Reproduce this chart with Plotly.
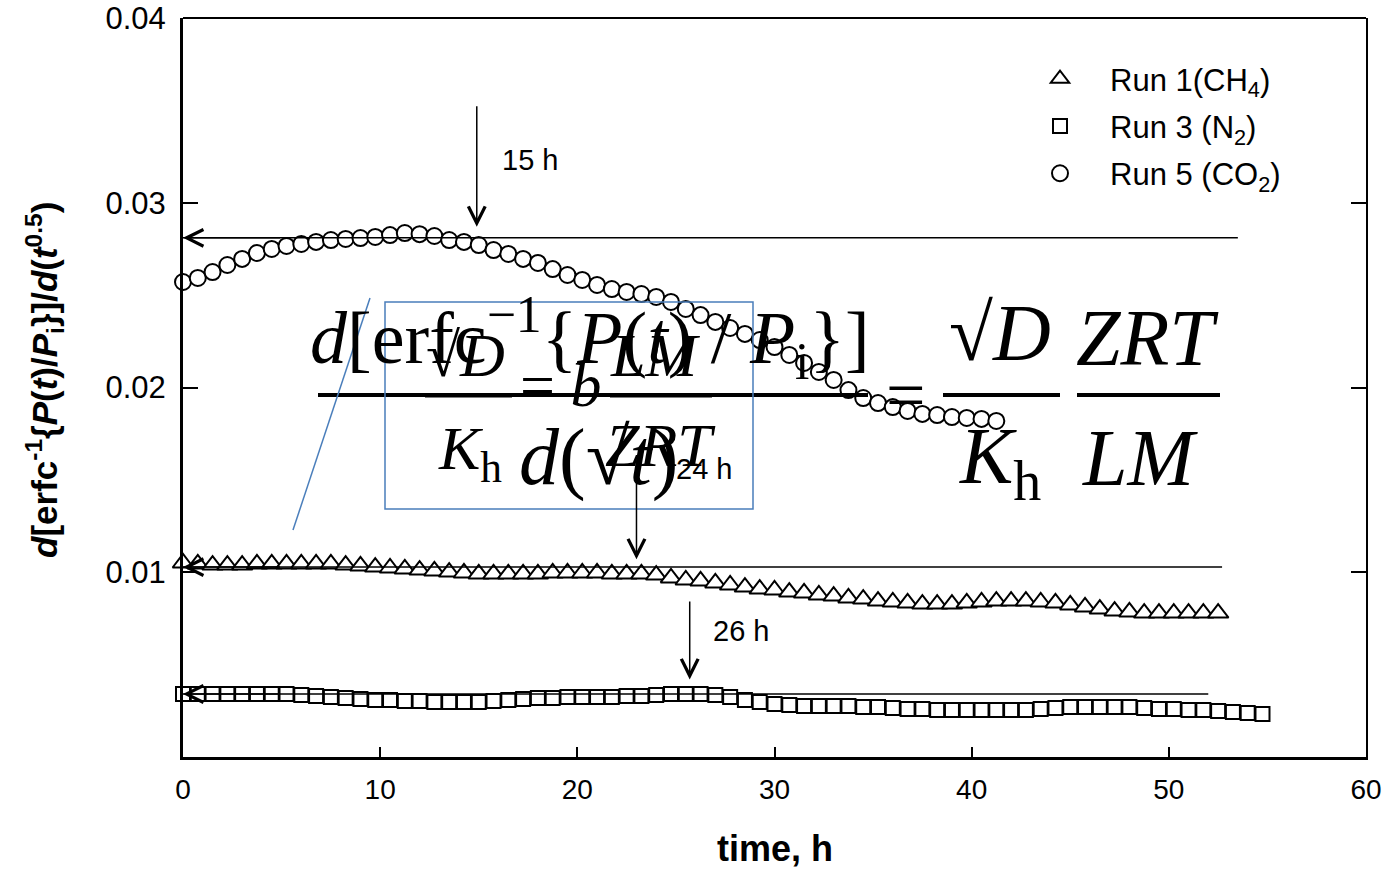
import plotly.graph_objects as go

# ---------------- data ----------------
t_co2 = [0, 0.75, 1.5, 2.25, 3, 3.75, 4.5, 5.25, 6, 6.75, 7.5, 8.25, 9, 9.75, 10.5, 11.25,
         12, 12.75, 13.5, 14.25, 15, 15.75, 16.5, 17.25, 18, 18.75, 19.5, 20.25, 21, 21.75,
         22.5, 23.25, 24, 24.75, 25.5, 26.25, 27, 27.75, 28.5, 29.25, 30, 30.75, 31.5, 32.25,
         33, 33.75, 34.5, 35.25, 36, 36.75, 37.5, 38.25, 39, 39.75, 40.5, 41.25]
co2 = [0.02571, 0.02593, 0.02625, 0.02663, 0.02696, 0.02728, 0.02750, 0.02766, 0.02777, 0.02788,
       0.02798, 0.02804, 0.02809, 0.02815, 0.02825, 0.02836, 0.02830, 0.02820, 0.02798, 0.02788,
       0.02771, 0.02744, 0.02723, 0.02696, 0.02674, 0.02641, 0.02609, 0.02582, 0.02555, 0.02533,
       0.02517, 0.02506, 0.02490, 0.02463, 0.02425, 0.02392, 0.02355, 0.02322, 0.02290, 0.02257,
       0.02219, 0.02176, 0.02133, 0.02084, 0.02041, 0.01986, 0.01943, 0.01916, 0.01894, 0.01873,
       0.01857, 0.01851, 0.01840, 0.01835, 0.01830, 0.01819]

t_ch4 = [0, 0.75, 1.5, 2.25, 3, 3.75, 4.5, 5.25, 6, 6.75, 7.5, 8.25, 9, 9.75, 10.5, 11.25,
         12, 12.75, 13.5, 14.25, 15, 15.75, 16.5, 17.25, 18, 18.75, 19.5, 20.25, 21, 21.75,
         22.5, 23.25, 24, 24.75, 25.5, 26.25, 27, 27.75, 28.5, 29.25, 30, 30.75, 31.5, 32.25,
         33, 33.75, 34.5, 35.25, 36, 36.75, 37.5, 38.25, 39, 39.75, 40.5, 41.25, 42, 42.75,
         43.5, 44.25, 45, 45.75, 46.5, 47.25, 48, 48.75, 49.5, 50.25, 51, 51.75, 52.5]
ch4 = [0.01050, 0.01045, 0.01039, 0.01039, 0.01039, 0.01045, 0.01045, 0.01045, 0.01045, 0.01045,
       0.01045, 0.01039, 0.01034, 0.01028, 0.01023, 0.01018, 0.01012, 0.01007, 0.01001, 0.00996,
       0.00991, 0.00991, 0.00991, 0.00991, 0.00991, 0.00996, 0.00996, 0.00996, 0.00996, 0.00991,
       0.00991, 0.00991, 0.00985, 0.00969, 0.00958, 0.00953, 0.00942, 0.00931, 0.00920, 0.00909,
       0.00904, 0.00893, 0.00888, 0.00877, 0.00871, 0.00861, 0.00855, 0.00844, 0.00839, 0.00834,
       0.00828, 0.00828, 0.00828, 0.00834, 0.00839, 0.00844, 0.00844, 0.00844, 0.00839, 0.00834,
       0.00823, 0.00812, 0.00801, 0.00790, 0.00785, 0.00779, 0.00779, 0.00779, 0.00779, 0.00779,
       0.00779]

t_n2 = [0, 0.75, 1.5, 2.25, 3, 3.75, 4.5, 5.25, 6, 6.75, 7.5, 8.25, 9, 9.75, 10.5, 11.25,
        12, 12.75, 13.5, 14.25, 15, 15.75, 16.5, 17.25, 18, 18.75, 19.5, 20.25, 21, 21.75,
        22.5, 23.25, 24, 24.75, 25.5, 26.25, 27, 27.75, 28.5, 29.25, 30, 30.75, 31.5, 32.25,
        33, 33.75, 34.5, 35.25, 36, 36.75, 37.5, 38.25, 39, 39.75, 40.5, 41.25, 42, 42.75,
        43.5, 44.25, 45, 45.75, 46.5, 47.25, 48, 48.75, 49.5, 50.25, 51, 51.75, 52.5, 53.25,
        54, 54.75]
n2 = [0.00341, 0.00341, 0.00341, 0.00341, 0.00341, 0.00341, 0.00341, 0.00341, 0.00336, 0.00330,
      0.00325, 0.00319, 0.00314, 0.00309, 0.00309, 0.00303, 0.00303, 0.00298, 0.00298, 0.00298,
      0.00298, 0.00303, 0.00309, 0.00314, 0.00319, 0.00319, 0.00325, 0.00325, 0.00325, 0.00325,
      0.00330, 0.00330, 0.00336, 0.00341, 0.00341, 0.00341, 0.00336, 0.00325, 0.00309, 0.00298,
      0.00287, 0.00282, 0.00276, 0.00276, 0.00276, 0.00276, 0.00271, 0.00271, 0.00265, 0.00260,
      0.00260, 0.00254, 0.00254, 0.00254, 0.00254, 0.00254, 0.00254, 0.00254, 0.00260, 0.00265,
      0.00271, 0.00271, 0.00271, 0.00271, 0.00271, 0.00265, 0.00260, 0.00260, 0.00254, 0.00254,
      0.00249, 0.00244, 0.00238, 0.00233]

# horizontal reference levels (value, end time) for CO2, CH4, N2
ref_levels = [0.0281, 0.01028, 0.00341]
ref_ends = [53.5, 52.7, 52.0]

# vertical arrows: (time, tail value, head value, label)
arrow_times = [14.9, 23.0, 25.7]
arrow_tails = [0.0353, 0.0158, 0.0085]
arrow_heads = [0.0287, 0.0107, 0.0042]
arrow_labels = ["15 h", "24 h", "26 h"]
label_x = [17.6, 26.4, 28.3]
label_y = [0.0323, 0.0156, 0.0068]

x_ticks = [0, 10, 20, 30, 40, 50, 60]
y_ticks = [0.01, 0.02, 0.03, 0.04]
y_ticktext = ["0.01", "0.02", "0.03", "0.04"]

# ---------------- figure ----------------
W, H = 1390, 870
L, R, T, B = 183, 24, 18, 113
PW, PH = W - L - R, H - T - B


def px(xp):
    return (xp - L) / PW


def py(yp):
    return (H - B - yp) / PH


fig = go.Figure()

mk_line = dict(color="black", width=2)
fig.add_trace(go.Scatter(x=t_ch4, y=ch4, mode="markers", name="Run 1(CH<sub>4</sub>)",
                         marker=dict(symbol="triangle-up", size=18, color="white", line=mk_line),
                         cliponaxis=False, legendgroup="a"))
fig.add_trace(go.Scatter(x=t_n2, y=n2, mode="markers", name="Run 3 (N<sub>2</sub>)",
                         marker=dict(symbol="square", size=14, color="white", line=mk_line),
                         cliponaxis=False, legendgroup="b"))
fig.add_trace(go.Scatter(x=t_co2, y=co2, mode="markers", name="Run 5 (CO<sub>2</sub>)",
                         marker=dict(symbol="circle", size=16, color="white", line=mk_line),
                         cliponaxis=False, legendgroup="c"))

# horizontal reference lines
for lev, end in zip(ref_levels, ref_ends):
    fig.add_trace(go.Scatter(x=[0, end], y=[lev, lev], mode="lines", yaxis="y2",
                             line=dict(color="black", width=1.5), showlegend=False,
                             hoverinfo="skip"))
    fig.add_annotation(x=0, y=lev, ax=5, ay=lev, xref="x", yref="y", axref="x", ayref="y",
                       text="", showarrow=True, arrowhead=5, arrowsize=2.2, arrowwidth=1.5,
                       arrowcolor="black")

# vertical arrows
for tx, tail, head, lab, lx, ly in zip(arrow_times, arrow_tails, arrow_heads, arrow_labels,
                                       label_x, label_y):
    fig.add_annotation(x=tx, y=head, ax=tx, ay=tail, xref="x", yref="y", axref="x", ayref="y",
                       text="", showarrow=True, arrowhead=5, arrowsize=2.2, arrowwidth=1.5,
                       arrowcolor="black")
    fig.add_annotation(x=lx, y=ly, xref="x", yref="y", text=lab, showarrow=False,
                       font=dict(family="Liberation Sans, Arial", size=29, color="black"))

# ---------------- equation overlays ----------------
serif = "Liberation Serif, Times New Roman, serif"


def eq(text, xp, yp, size):
    fig.add_annotation(x=px(xp), y=py(yp), xref="paper", yref="paper", text=text,
                       showarrow=False, xanchor="center", yanchor="middle",
                       font=dict(family=serif, size=size, color="black"))


def bar(x0, x1, yp, w, color="black"):
    fig.add_shape(type="line", xref="paper", yref="paper", x0=px(x0), x1=px(x1),
                  y0=py(yp), y1=py(yp), line=dict(color=color, width=w))


# big equation
eq("<i>d</i>[erfc<sup>−1</sup>{<i>P</i>(<i>t</i>) / <i>P</i><sub>i</sub>}]", 590, 338, 74)
bar(318, 868, 395, 4)
eq("<i>d</i>(√<i>t</i>)", 598, 458, 80)
eq("=", 905, 395, 70)
eq("√<i>D</i>", 1000, 333, 80)
bar(943, 1060, 395, 4)
eq("<i>K</i><sub>h</sub>", 1000, 462, 80)
eq("<i>ZRT</i>", 1147, 338, 80)
bar(1077, 1220, 395, 4)
eq("<i>LM</i>", 1140, 458, 80)

# small boxed equation
blue = "#4a7ebb"
fig.add_shape(type="rect", xref="paper", yref="paper", x0=px(385), x1=px(753),
              y0=py(509), y1=py(302), line=dict(color=blue, width=1.5))
fig.add_shape(type="line", xref="paper", yref="paper", x0=px(370), x1=px(293),
              y0=py(298), y1=py(530), line=dict(color=blue, width=1.5))
eq("√<i>D</i>", 465, 355, 62)
bar(425, 512, 396, 3)
eq("<i>K</i><sub>h</sub>", 470, 452, 62)
eq("= <i>b</i>", 560, 385, 62)
eq("<i>LM</i>", 655, 355, 62)
bar(610, 712, 396, 3)
eq("<i>ZRT</i>", 660, 445, 62)

# axis titles
fig.add_annotation(x=px(44), y=py(380), xref="paper", yref="paper", textangle=-90,
                   text="<i>d</i>[erfc<sup>-1</sup>{<i>P</i>(<i>t</i>)/<i>P</i><sub>i</sub>}]/<i>d</i>(<i>t</i><sup>0.5</sup>)",
                   showarrow=False, xanchor="center", yanchor="middle",
                   font=dict(family="Liberation Sans, Arial", size=35, color="black", weight="bold"))
fig.add_annotation(x=px(775), y=py(849), xref="paper", yref="paper", text="time, h",
                   showarrow=False, xanchor="center", yanchor="middle",
                   font=dict(family="Liberation Sans, Arial", size=36, color="black", weight="bold"))

# top border
fig.add_shape(type="line", xref="paper", yref="paper", x0=0, x1=1, y0=1, y1=1,
              line=dict(color="black", width=2))

fig.update_layout(
    width=W, height=H,
    margin=dict(l=L, r=R, t=T, b=B, autoexpand=False),
    paper_bgcolor="white", plot_bgcolor="white",
    font=dict(family="Liberation Sans, Arial", size=28, color="black"),
    showlegend=True,
    legend=dict(x=px(1010), y=py(52), xanchor="left", yanchor="top",
                bgcolor="rgba(0,0,0,0)", font=dict(size=31), itemwidth=90,
                tracegroupgap=4, traceorder="grouped"),
    xaxis=dict(range=[0, 60], tickvals=x_ticks, ticks="inside", ticklen=10, tickwidth=1.5,
               tickcolor="black", showline=True, linewidth=3, linecolor="black",
               showgrid=False, zeroline=False, tickfont=dict(size=28), ticklabelstandoff=5),
    yaxis=dict(range=[0, 0.04], tickvals=y_ticks, ticktext=y_ticktext, ticks="inside",
               ticklen=15, tickwidth=1.5, tickcolor="black", showline=True, linewidth=3,
               linecolor="black", showgrid=False, zeroline=False, tickfont=dict(size=31),
               ticklabelstandoff=8),
    yaxis2=dict(range=[0, 0.04], overlaying="y", side="right", tickvals=[0.01, 0.02, 0.03],
                ticks="inside", ticklen=15, tickwidth=1.5, tickcolor="black",
                showticklabels=False, showline=True, linewidth=2, linecolor="black",
                showgrid=False, zeroline=False),
)

fig.write_html("out.html")
